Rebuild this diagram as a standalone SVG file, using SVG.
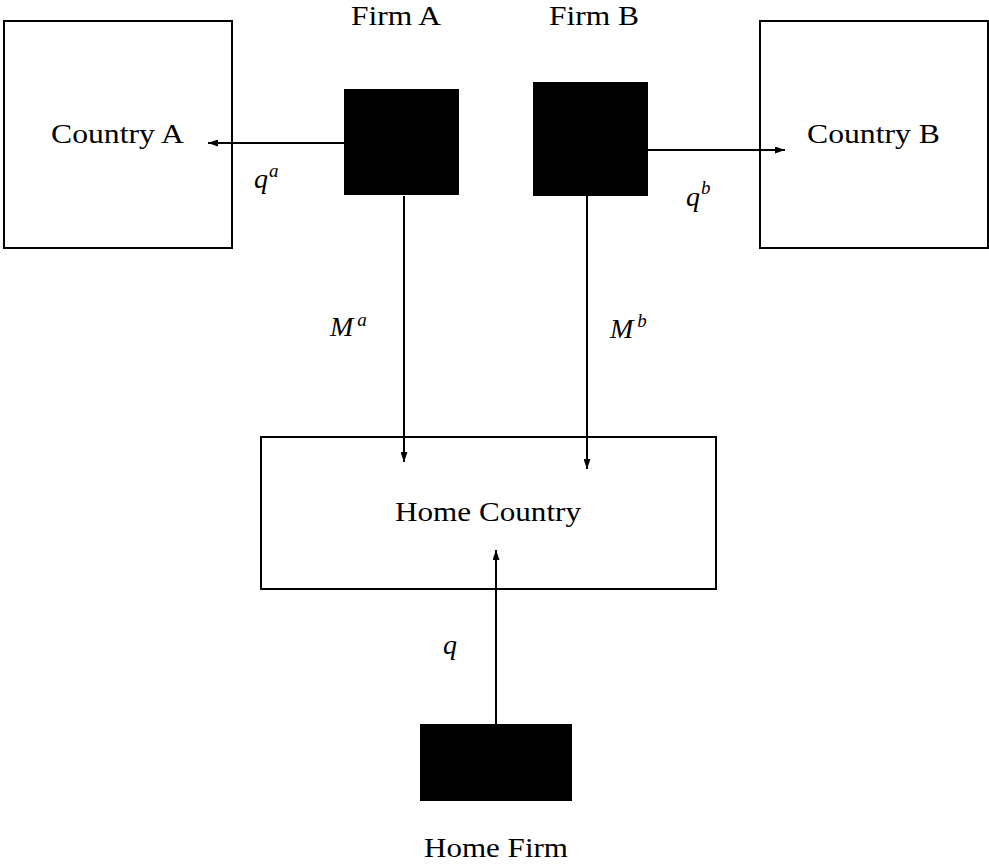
<svg xmlns="http://www.w3.org/2000/svg" width="989" height="865" viewBox="0 0 989 865">
<style>
.box{fill:#fff;stroke:#000;stroke-width:2}
.firm{fill:#000;stroke:none}
.lbl{font-family:"Liberation Serif","Times New Roman",serif;font-size:28px;fill:#000}
.math{font-family:"Liberation Serif","Times New Roman",serif;font-style:italic;font-size:28px;fill:#000}
.sup{font-size:19px}
.conn{stroke:#000;stroke-width:2;fill:none;marker-end:url(#ah)}
</style>
<defs>
<marker id="ah" markerUnits="userSpaceOnUse" markerWidth="10" markerHeight="7" refX="10" refY="3.5" orient="auto">
<path d="M0,0 L10,3.5 L0,7 z" fill="#000"/>
</marker>
</defs>
<rect width="989" height="865" fill="#fff"/>
<g id="country-a"><rect class="box" x="4" y="21" width="228" height="227"/><text class="lbl" x="51" y="143" textLength="133" lengthAdjust="spacingAndGlyphs">Country A</text></g>
<g id="country-b"><rect class="box" x="760" y="21" width="228" height="227"/><text class="lbl" x="807" y="143" textLength="133" lengthAdjust="spacingAndGlyphs">Country B</text></g>
<g id="firm-a"><rect class="firm" x="344" y="89" width="115" height="106"/><text class="lbl" x="351" y="25" textLength="90" lengthAdjust="spacingAndGlyphs">Firm A</text></g>
<g id="firm-b"><rect class="firm" x="533" y="82" width="115" height="114"/><text class="lbl" x="549" y="25" textLength="90" lengthAdjust="spacingAndGlyphs">Firm B</text></g>
<g id="home-country"><rect class="box" x="261" y="437" width="455" height="152"/><text class="lbl" x="395" y="521" textLength="186" lengthAdjust="spacingAndGlyphs">Home Country</text></g>
<g id="home-firm"><rect class="firm" x="420" y="724" width="152" height="77"/><text class="lbl" x="424" y="857" textLength="144" lengthAdjust="spacingAndGlyphs">Home Firm</text></g>
<g id="connectors">
<line class="conn" x1="344" y1="143" x2="208" y2="143"/>
<line class="conn" x1="648" y1="150" x2="785" y2="150"/>
<line class="conn" x1="404" y1="196" x2="404" y2="462"/>
<line class="conn" x1="587" y1="196" x2="587" y2="469"/>
<line class="conn" x1="496" y1="724" x2="496" y2="550"/>
<text class="math" x="254" y="188">q<tspan class="sup" dx="1" dy="-11">a</tspan></text>
<text class="math" x="686" y="206">q<tspan class="sup" dx="1" dy="-12">b</tspan></text>
<text class="math" x="330" y="336">M<tspan class="sup" dx="4" dy="-10">a</tspan></text>
<text class="math" x="610" y="338">M<tspan class="sup" dx="4" dy="-11">b</tspan></text>
<text class="math" x="443" y="654">q</text>
</g>
</svg>
